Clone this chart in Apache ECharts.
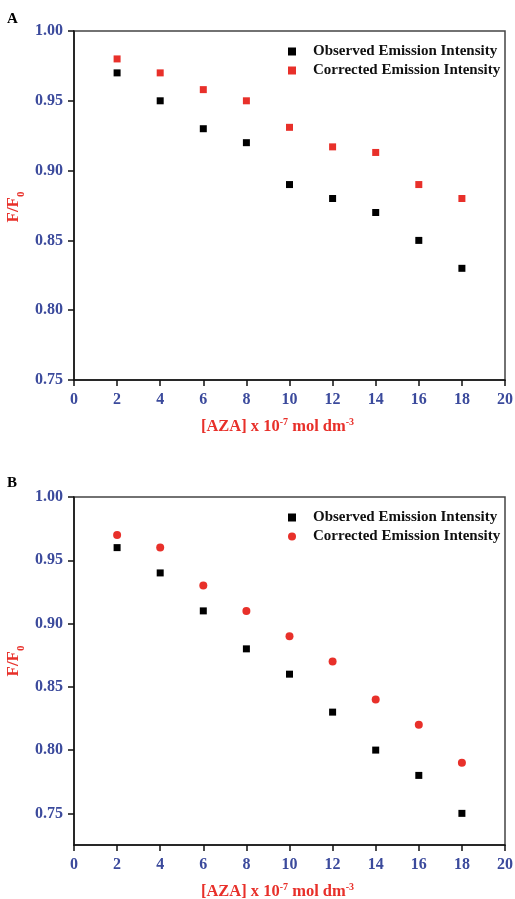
<!DOCTYPE html>
<html><head><meta charset="utf-8">
<script src="https://cdn.jsdelivr.net/npm/echarts@6/dist/echarts.min.js"></script>
<style>html,body{margin:0;padding:0;background:#fff}#c{width:515px;height:899px}</style>
</head><body><div id="c"></div>
<script>
const concentration = [2, 4, 6, 8, 10, 12, 14, 16, 18];
const observedA = [0.97, 0.95, 0.93, 0.92, 0.89, 0.88, 0.87, 0.85, 0.83];
const correctedA = [0.98, 0.97, 0.958, 0.95, 0.931, 0.917, 0.913, 0.89, 0.88];
const observedB = [0.96, 0.94, 0.91, 0.88, 0.86, 0.83, 0.80, 0.78, 0.75];
const correctedB = [0.97, 0.96, 0.93, 0.91, 0.89, 0.87, 0.84, 0.82, 0.79];
const yTickValues = [0.75, 0.80, 0.85, 0.90, 0.95, 1.00];
const seriesNames = ['Observed Emission Intensity', 'Corrected Emission Intensity'];
const panelLabels = ['A', 'B'];
const yTitle = '{m|F/F}{s|0}';

const FONT = "'Liberation Serif','Times New Roman',serif";
const BLUE = '#3B4A9C';
const RED = '#E8302A';

function pairs(xs, ys) { return xs.map((x, i) => [x, ys[i]]); }

const grids = [
  { left: 74, top: 31, width: 431, height: 349 },
  { left: 74, top: 497, width: 431, height: 348 }
];

function xAxis(gi) {
  return {
    gridIndex: gi, type: 'value', min: 0, max: 20, interval: 2,
    name: '{t|[AZA] x 10}{p|-7}{t| mol dm}{p|-3}',
    nameLocation: 'middle', nameGap: 37, nameMoveOverlap: false,
    nameTextStyle: {
      padding: [0, 24, 0, 0],
      rich: {
        t: { fontFamily: FONT, fontWeight: 'bold', fontSize: 16.5, color: RED, verticalAlign: 'bottom' },
        p: { fontFamily: FONT, fontWeight: 'bold', fontSize: 10, color: RED, verticalAlign: 'bottom', padding: [0, 0, 8, 0] }
      }
    },
    axisLine: { onZero: false, lineStyle: { color: '#111', width: 1.5 } },
    axisTick: { inside: false, length: 6, lineStyle: { color: '#111', width: 1.5 } },
    axisLabel: { fontFamily: FONT, fontWeight: 'bold', fontSize: 16, color: BLUE, margin: 12 },
    splitLine: { show: false }
  };
}

function yAxis(gi, min) {
  return {
    gridIndex: gi, type: 'value', min: min, max: 1.0,
    axisLine: { onZero: false, lineStyle: { color: '#111', width: 1.5 } },
    axisTick: { inside: false, length: 6, customValues: yTickValues, lineStyle: { color: '#111', width: 1.5 } },
    axisLabel: {
      customValues: yTickValues,
      fontFamily: FONT, fontWeight: 'bold', fontSize: 16, color: BLUE, margin: 11,
      formatter: v => Number(v).toFixed(2)
    },
    splitLine: { show: false }
  };
}

function legend(top, icons) {
  return {
    orient: 'vertical', left: 283, top: top,
    itemWidth: 8, itemHeight: 8, itemGap: 4,
    data: seriesNames.map((n, i) => ({ name: n, icon: icons[i], itemStyle: { color: i === 0 ? '#000' : RED } })),
    textStyle: { fontFamily: FONT, fontWeight: 'bold', fontSize: 15, color: '#111', padding: [0, 0, 0, 12] },
    selectedMode: false
  };
}

function yTitleText(cy) {
  return {
    type: 'text', x: 16, y: cy, rotation: Math.PI / 2,
    style: {
      text: yTitle, align: 'center', verticalAlign: 'middle',
      rich: {
        m: { fontFamily: FONT, fontWeight: 'bold', fontSize: 17, fill: RED, verticalAlign: 'bottom', padding: [0, 0, 5, 0] },
        s: { fontFamily: FONT, fontWeight: 'bold', fontSize: 11, fill: RED, verticalAlign: 'bottom' }
      }
    }
  };
}

const option = {
  animation: false,
  backgroundColor: '#fff',
  grid: grids.map(g => Object.assign({ show: true, borderColor: '#444', borderWidth: 1.5, containLabel: false, outerBoundsMode: 'none' }, g)),
  xAxis: [xAxis(0), xAxis(1)],
  yAxis: [yAxis(0, 0.75), yAxis(1, 0.725)],
  legend: [legend(39, ['rect', 'rect']), legend(505, ['rect', 'circle'])],
  graphic: [
    { type: 'text', left: 7, top: 12, style: { text: panelLabels[0], font: 'bold 15px ' + FONT, fill: '#000' } },
    { type: 'text', left: 7, top: 476, style: { text: panelLabels[1], font: 'bold 15px ' + FONT, fill: '#000' } },
    yTitleText(207),
    yTitleText(661)
  ],
  series: [
    { name: seriesNames[0], type: 'scatter', xAxisIndex: 0, yAxisIndex: 0, symbol: 'rect', symbolSize: 7, itemStyle: { color: '#000', opacity: 1 }, data: pairs(concentration, observedA) },
    { name: seriesNames[1], type: 'scatter', xAxisIndex: 0, yAxisIndex: 0, symbol: 'rect', symbolSize: 7, itemStyle: { color: RED, opacity: 1 }, data: pairs(concentration, correctedA) },
    { name: seriesNames[0], type: 'scatter', xAxisIndex: 1, yAxisIndex: 1, symbol: 'rect', symbolSize: 7, itemStyle: { color: '#000', opacity: 1 }, data: pairs(concentration, observedB) },
    { name: seriesNames[1], type: 'scatter', xAxisIndex: 1, yAxisIndex: 1, symbol: 'circle', symbolSize: 8, itemStyle: { color: RED, opacity: 1 }, data: pairs(concentration, correctedB) }
  ]
};

const chart = echarts.init(document.getElementById('c'), null, { renderer: 'canvas' });
chart.setOption(option);
</script>
</body></html>
